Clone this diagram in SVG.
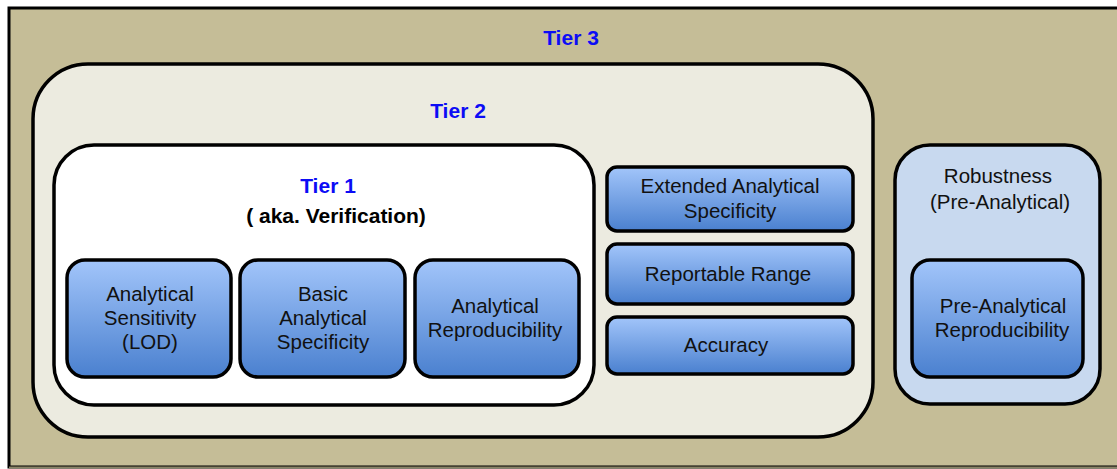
<svg xmlns="http://www.w3.org/2000/svg" width="1117" height="469" viewBox="0 0 1117 469">
<defs>
<linearGradient id="blue" x1="0" y1="0" x2="0" y2="1">
<stop offset="0" stop-color="#a2c5fa"/>
<stop offset="1" stop-color="#4a80cf"/>
</linearGradient>
<style>
.box{fill:url(#blue);stroke:#000;stroke-width:3.5}
.frame{stroke:#000;stroke-width:3.5}
text{font-family:"Liberation Sans",Arial,sans-serif;text-anchor:middle}
.lbl{font-size:20.5px;fill:#111}
.tier{font-size:21px;font-weight:bold;fill:#0c0cf5}
.sub{font-size:21px;font-weight:bold;fill:#000}
</style>
</defs>
<rect width="1117" height="469" fill="#fff"/>
<g id="tier3">
<rect x="9" y="8" width="1120" height="459" fill="#c5bd97" stroke="#000" stroke-width="3"/>
<line x1="9" y1="467.5" x2="1117" y2="467.5" stroke="#8a8466" stroke-width="2"/>
<text class="tier" x="571" y="45">Tier 3</text>
</g>
<g id="tier2">
<rect class="frame" x="33" y="64" width="840" height="373" rx="55" fill="#ecebe0"/>
<text class="tier" x="458" y="118">Tier 2</text>
</g>
<g id="tier1">
<rect class="frame" x="54" y="145" width="540" height="260" rx="40" fill="#fff"/>
<text class="tier" x="328" y="193">Tier 1</text>
<text class="sub" x="336" y="223">( aka. Verification)</text>
</g>
<g id="sensitivity">
<rect class="box" x="67" y="260" width="164" height="117" rx="18"/>
<text class="lbl" x="150" y="301">Analytical</text>
<text class="lbl" x="150" y="325">Sensitivity</text>
<text class="lbl" x="150" y="349">(LOD)</text>
</g>
<g id="basic-specificity">
<rect class="box" x="240" y="260" width="165" height="117" rx="18"/>
<text class="lbl" x="323" y="301">Basic</text>
<text class="lbl" x="323" y="325">Analytical</text>
<text class="lbl" x="323" y="349">Specificity</text>
</g>
<g id="reproducibility">
<rect class="box" x="415" y="260" width="164" height="117" rx="18"/>
<text class="lbl" x="495" y="313">Analytical</text>
<text class="lbl" x="495" y="337">Reproducibility</text>
</g>
<g id="extended-specificity">
<rect class="box" x="607" y="167" width="246" height="64" rx="10"/>
<text class="lbl" x="730" y="193">Extended Analytical</text>
<text class="lbl" x="730" y="218">Specificity</text>
</g>
<g id="reportable-range">
<rect class="box" x="607" y="244" width="246" height="60" rx="10"/>
<text class="lbl" x="728" y="281">Reportable Range</text>
</g>
<g id="accuracy">
<rect class="box" x="607" y="317" width="246" height="57" rx="10"/>
<text class="lbl" x="726" y="352">Accuracy</text>
</g>
<g id="robustness">
<rect class="frame" x="895" y="145" width="205" height="259" rx="35" fill="#c8d9ef"/>
<text class="lbl" x="998" y="183">Robustness</text>
<text class="lbl" x="1000" y="209">(Pre-Analytical)</text>
</g>
<g id="pre-analytical-reproducibility">
<rect class="box" x="912" y="260" width="171" height="117" rx="18"/>
<text class="lbl" x="1003" y="313">Pre-Analytical</text>
<text class="lbl" x="1002" y="337">Reproducibility</text>
</g>
<g id="connectors"></g>
</svg>
